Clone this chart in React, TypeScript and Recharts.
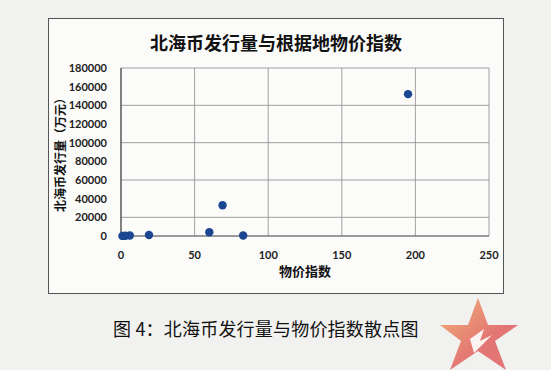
import { ScatterChart, Scatter, XAxis, YAxis, CartesianGrid, Label } from "recharts";

const priceIndex = [1, 3, 6, 19, 60, 69, 83, 195];
const issuance = [100, 300, 500, 1000, 4000, 33000, 500, 152000];
const xTicks = [0, 50, 100, 150, 200, 250];
const yTicks = [0, 20000, 40000, 60000, 80000, 100000, 120000, 140000, 160000, 180000];

const data = priceIndex.map((x, i) => ({ x, y: issuance[i] }));

const cjk = "'Noto Sans CJK SC', sans-serif";
const tickStyle = { fill: "#222", fontSize: 11, fontWeight: 700, fontFamily: "Lato, sans-serif" };

const Dot = (props: any) => {
  const { cx, cy } = props;
  return <circle cx={cx} cy={cy} r={4.2} fill="#1b4691" />;
};

export default function App() {
  return (
    <div style={{ position: "absolute", left: 0, top: 0, width: 551, height: 370, background: "#f1f1ef", overflow: "hidden" }}>
      <div
        style={{
          position: "absolute",
          left: 48,
          top: 18,
          width: 454,
          height: 274,
          border: "1px solid #555",
          background: "#fbfbfa",
        }}
      >
        <div
          style={{
            position: "absolute",
            left: 0,
            top: 10,
            width: 454,
            textAlign: "center",
            fontFamily: cjk,
            fontWeight: 700,
            fontSize: 18,
            color: "#111",
          }}
        >
          北海币发行量与根据地物价指数
        </div>
        <ScatterChart width={454} height={274} margin={{ top: 49, right: 14, left: 12, bottom: 5 }}>
          <CartesianGrid stroke="#8a8a8a" strokeWidth={0.8} />
          <XAxis
            type="number"
            dataKey="x"
            domain={[0, 250]}
            ticks={xTicks}
            tick={tickStyle}
            tickLine={false}
            axisLine={{ stroke: "#666" }}
            tickMargin={9}
            height={52}
          >
            <Label value="物价指数" position="insideBottom" offset={12} style={{ fontFamily: cjk, fontWeight: 700, fontSize: 13, fill: "#111" }} />
          </XAxis>
          <YAxis
            type="number"
            dataKey="y"
            domain={[0, 180000]}
            ticks={yTicks}
            tick={tickStyle}
            tickLine={false}
            axisLine={{ stroke: "#333" }}
            tickMargin={8}
            width={60}
          >
            <Label
              value="北海币发行量（万元）"
              angle={-90}
              position="insideLeft"
              offset={0}
              style={{ fontFamily: cjk, fontWeight: 700, fontSize: 12, fill: "#111", textAnchor: "middle" }}
            />
          </YAxis>
          <Scatter data={data} shape={Dot} isAnimationActive={false} />
        </ScatterChart>
      </div>
      <div
        style={{
          position: "absolute",
          left: 113,
          top: 315,
          fontFamily: cjk,
          fontSize: 18,
          letterSpacing: 0.2,
          color: "#111",
        }}
      >
        图 4：北海币发行量与物价指数散点图
      </div>
      <svg style={{ position: "absolute", left: 440, top: 295 }} width={90} height={75}>
        <defs>
          <linearGradient id="starFill" x1="0" y1="0" x2="1" y2="1">
            <stop offset="0%" stopColor="#f0a860" stopOpacity={0.85} />
            <stop offset="60%" stopColor="#e0605e" stopOpacity={0.85} />
          </linearGradient>
        </defs>
        <polygon points="38,3 48,30 78,30 55,46 66,75 38,56 10,75 21,46 0,30 28,30" fill="url(#starFill)" />
        <polygon points="30,44 44,34 40,46 52,40 34,58" fill="#fbf4f2" />
      </svg>
    </div>
  );
}
